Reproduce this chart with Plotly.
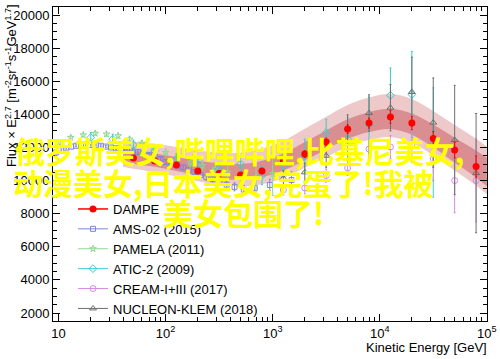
import plotly.graph_objects as go

# ---------------- data ----------------
dampe_E = [50, 79, 126, 200, 316, 501, 794, 1259, 1995, 3162, 5012, 7943, 12589, 19953, 31623, 50119, 79433]
dampe_F = [11360, 11180, 10940, 10575, 10420, 10330, 10575, 11180, 11600, 12330, 13110, 13470, 13840, 13470, 12540, 11840, 10850]
dampe_err = [120, 120, 120, 130, 140, 150, 160, 180, 200, 230, 260, 300, 380, 400, 420, 470, 640]

band_E = [40, 50, 79, 126, 200, 316, 501, 794, 1259, 1995, 3162, 5012, 7943, 12589, 19953, 31623, 50119, 79433, 100000]
band_center = [11540, 11420, 11240, 11000, 10760, 10580, 10520, 10700, 11120, 11780, 12450, 13110, 13530, 13720, 13410, 12690, 11840, 11000, 10520]
band_inner = [400, 400, 400, 420, 440, 460, 480, 500, 520, 550, 570, 590, 600, 610, 640, 690, 750, 820, 870]
band_extra_up = [550, 560, 580, 600, 620, 640, 680, 720, 760, 800, 840, 870, 890, 900, 880, 820, 760, 700, 660]
band_extra_down = [300, 300, 320, 340, 360, 380, 400, 420, 440, 460, 470, 480, 480, 480, 480, 480, 480, 480, 480]

ams_E = [9.5, 10.6, 11.8, 13.1, 14.6, 16.2, 18.0, 20.0, 22.3, 24.8, 27.6, 30.8, 34.5, 38.7, 43.5, 48.9, 55.0, 62.0, 70.0,
         79.2, 89.6, 101, 114, 129, 146, 165, 186, 211, 240, 275, 318, 371, 440, 537, 680, 940, 1500]
ams_F = [11700, 11850, 11950, 12050, 12100, 12150, 12150, 12150, 12150, 12100, 12050, 12000, 11950, 11900, 11850, 11780,
         11720, 11650, 11550, 11450, 11300, 11120, 11020, 10900, 10790, 10650, 10500, 10330, 10200, 10100, 9950, 9750,
         9620, 9450, 9550, 9730, 10030]
ams_err = [60, 60, 60, 60, 60, 60, 60, 60, 60, 60, 60, 65, 65, 70, 70, 75, 80, 85, 90, 95, 100, 105, 110, 120, 130,
           140, 150, 160, 170, 180, 200, 220, 240, 260, 300, 350, 500]

pamela_E = [10, 13, 17, 22, 28, 36, 46, 60, 77, 100, 130, 170, 220, 290, 380, 500, 700, 1000]
pamela_F = [12300, 12600, 12750, 12850, 12800, 12700, 12500, 12250, 12000, 11700, 11400, 11100, 10900, 10700, 10500, 10300, 10200, 10400]
pamela_err = [100, 100, 100, 110, 120, 130, 140, 160, 180, 200, 230, 270, 320, 400, 500, 650, 900, 1300]

atic_E = [20, 32, 50, 79, 126, 200, 316, 501, 794, 1259, 1995, 3162, 5012, 7943, 12589, 19953, 31623]
atic_F = [12600, 12500, 12150, 11800, 11300, 10900, 10700, 11000, 10300, 10900, 11500, 12900, 12500, 13350, 15150, 15200, 12300]
atic_err = [300, 300, 300, 300, 320, 350, 400, 450, 550, 700, 1000, 800, 1300, 1700, 1650, 2600, 3300]

cream_E = [1259, 1995, 3162, 5012, 7943, 12589, 19953, 31623, 50119, 79433]
cream_F = [9430, 9550, 10300, 10760, 11900, 12030, 12200, 11300, 10000, 10000]
cream_err = [300, 350, 400, 450, 600, 700, 1100, 1300, 1950, 2500]

nucleon_E = [1259, 1995, 3162, 5012, 7943, 12589, 19953, 31623, 50119, 79433]
nucleon_F = [10150, 10500, 11500, 13170, 14080, 14400, 15350, 13500, 12450, 10450]
nucleon_err = [450, 550, 700, 800, 1100, 1400, 2100, 2700, 3300, 3600]

x_tickvals = [10, 100, 1000, 10000, 100000]
x_ticktext = ["10", "10<sup>2</sup>", "10<sup>3</sup>", "10<sup>4</sup>", "10<sup>5</sup>"]

overlay_lines = ["俄罗斯美女,哔哩哔哩,比基尼美女,", "动漫美女,日本美女,完蛋了!我被", "美女包围了!"]

# ---------------- figure ----------------
fig = go.Figure()

outer_lo = [c - i - d for c, i, d in zip(band_center, band_inner, band_extra_down)]
outer_hi = [c + i + u for c, i, u in zip(band_center, band_inner, band_extra_up)]
inner_lo = [c - i for c, i in zip(band_center, band_inner)]
inner_hi = [c + i for c, i in zip(band_center, band_inner)]

fig.add_trace(go.Scatter(x=band_E, y=outer_lo, mode="lines", line=dict(width=0, shape="spline"),
                         showlegend=False, hoverinfo="skip"))
fig.add_trace(go.Scatter(x=band_E, y=outer_hi, mode="lines", line=dict(width=0, shape="spline"),
                         fill="tonexty", fillcolor="#eec9c9", showlegend=False, hoverinfo="skip"))
fig.add_trace(go.Scatter(x=band_E, y=inner_lo, mode="lines", line=dict(width=0, shape="spline"),
                         showlegend=False, hoverinfo="skip"))
fig.add_trace(go.Scatter(x=band_E, y=inner_hi, mode="lines", line=dict(width=0, shape="spline"),
                         fill="tonexty", fillcolor="#da8e92", showlegend=False, hoverinfo="skip"))

series = [
    ("AMS-02 (2015)", ams_E, ams_F, ams_err, "#7d86d8", "square-open", 5),
    ("PAMELA (2011)", pamela_E, pamela_F, pamela_err, "#8fd88f", "star-open", 5),
    ("ATIC-2 (2009)", atic_E, atic_F, atic_err, "#3ccbd0", "diamond-open", 6),
    ("CREAM-I+III (2017)", cream_E, cream_F, cream_err, "#d48be0", "circle-open", 6),
    ("NUCLEON-KLEM (2018)", nucleon_E, nucleon_F, nucleon_err, "#6e6e6e", "triangle-up-open", 6),
]
for name, ex, fy, er, col, sym, sz in series:
    fig.add_trace(go.Scatter(x=ex, y=fy, mode="markers", showlegend=False,
                             marker=dict(symbol=sym, size=sz, color=col, line=dict(width=1, color=col)),
                             error_y=dict(type="data", array=er, color=col, thickness=1, width=1)))

fig.add_trace(go.Scatter(x=dampe_E, y=dampe_F, mode="markers", showlegend=False,
                         marker=dict(symbol="circle", size=7, color="#ff0000"),
                         error_y=dict(type="data", array=dampe_err, color="#ff0000", thickness=1, width=1)))

# legend entries (line + marker, ROOT style)
fig.add_trace(go.Scatter(x=[None], y=[None], mode="lines+markers", name="DAMPE",
                         line=dict(color="#ff0000", width=1.5), marker=dict(symbol="circle", size=7, color="#ff0000")))
for name, ex, fy, er, col, sym, sz in series:
    fig.add_trace(go.Scatter(x=[None], y=[None], mode="lines+markers", name=name,
                             line=dict(color=col, width=1),
                             marker=dict(symbol=sym, size=sz, color=col, line=dict(width=1, color=col))))

L, R, T, B = 53, 13, 7, 38
W, H = 500, 359
pw, ph = W - L - R, H - T - B


def px(xp):
    return (xp - L) / pw


def py(yp):
    return (H - B - yp) / ph


minor_x = [k * 10 ** n for n in range(0, 5) for k in range(2, 10) if 8.9 <= k * 10 ** n <= 100000]

fig.update_xaxes(type="log", range=[0.948, 5.002], tickmode="array", tickvals=x_tickvals, ticktext=x_ticktext,
                 ticks="inside", ticklen=7, tickwidth=1, tickcolor="black", showline=True, linecolor="black",
                 linewidth=1, mirror="ticks", showgrid=False, zeroline=False, automargin=False,
                 tickfont=dict(family="Liberation Sans, Arial", size=13, color="black"),
                 minor=dict(tickmode="array", tickvals=minor_x, ticks="inside", ticklen=4, tickcolor="black",
                            showgrid=False))
fig.update_yaxes(range=[1517, 20483], tickmode="linear", tick0=0, dtick=2000, tickformat="d",
                 ticks="inside", ticklen=7, tickwidth=1, tickcolor="black", showline=True, linecolor="black",
                 linewidth=1, mirror="ticks", showgrid=False, zeroline=False, automargin=False,
                 tickfont=dict(family="Liberation Sans, Arial", size=13, color="black"),
                 minor=dict(dtick=500, ticks="inside", ticklen=4, tickcolor="black", showgrid=False))

annotations = [
    dict(text="Flux × E<sup>2.7</sup> [m<sup>-2</sup>sr<sup>-1</sup>s<sup>-1</sup>GeV<sup>1.7</sup>]",
         x=px(11), y=py(86), xref="paper", yref="paper", textangle=-90, showarrow=False,
         xanchor="center", yanchor="middle", font=dict(family="Liberation Sans, Arial", size=13, color="black")),
    dict(text="Kinetic Energy [GeV]", x=px(489), y=py(347), xref="paper", yref="paper", showarrow=False,
         xanchor="right", yanchor="middle", font=dict(family="Liberation Sans, Arial", size=13, color="black")),
]
for txt, x0, yc in zip(overlay_lines, [13, 11, 161], [150, 182, 212]):
    annotations.append(dict(text=txt, x=px(x0), y=py(yc), xref="paper", yref="paper", showarrow=False,
                            xanchor="left", yanchor="middle",
                            font=dict(family="Noto Sans CJK SC", size=30, color="#ffff00", weight="bold")))

fig.update_layout(
    width=W, height=H, margin=dict(l=L, r=R, t=T, b=B, pad=0, autoexpand=False),
    paper_bgcolor="white", plot_bgcolor="white",
    showlegend=True,
    legend=dict(x=px(73), y=py(194), xanchor="left", yanchor="top", bgcolor="rgba(0,0,0,0)",
                font=dict(family="Liberation Sans, Arial", size=13, color="black"),
                itemwidth=30, tracegroupgap=0, traceorder="normal"),
    annotations=annotations,
)

fig.write_html("out.html", config={"displayModeBar": False},
               post_script="document.body.style.margin='0';document.body.style.overflow='hidden';")
